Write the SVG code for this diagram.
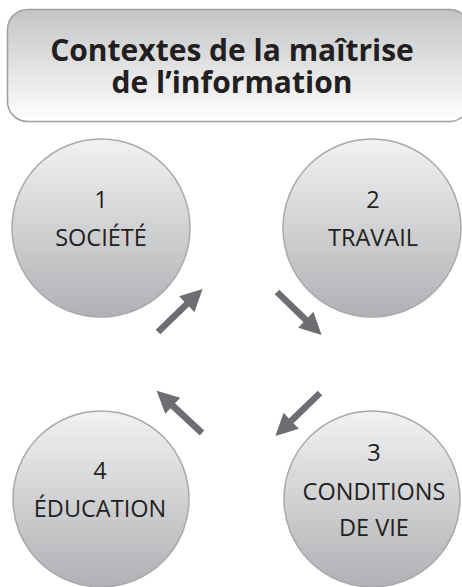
<svg xmlns="http://www.w3.org/2000/svg" xmlns:xlink="http://www.w3.org/1999/xlink" width="462" height="587" viewBox="0 0 462 587">
<style>
.title{font-family:"Open Sans","Liberation Sans",sans-serif;font-weight:bold;font-size:30px;fill:#231f20;text-anchor:middle}
.lbl{font-family:"Open Sans","Liberation Sans",sans-serif;font-size:23.5px;fill:#231f20;text-anchor:middle}
.node{fill:url(#gc);stroke:#a7a9ac;stroke-width:1.5}
.arr{fill:#6d6e71}
</style>
<defs>
<linearGradient id="gt" x1="0" y1="0" x2="0" y2="1">
<stop offset="0" stop-color="#c3c4c6"/>
<stop offset="1" stop-color="#ffffff"/>
</linearGradient>
<linearGradient id="gc" x1="0" y1="0" x2="0" y2="1">
<stop offset="0" stop-color="#f2f2f3"/>
<stop offset="1" stop-color="#b0b1b4"/>
</linearGradient>
<polygon id="arrow" points="0,-3.3 40,-3.3 40,-11 62,0 40,11 40,3.3 0,3.3"/>
</defs>
<rect width="462" height="587" fill="#ffffff"/>
<g id="title">
<rect x="7.5" y="9.5" width="462" height="112" rx="20" fill="url(#gt)" stroke="#9d9fa2" stroke-width="1.5"/>
<text class="title"><tspan x="232" y="61">Contextes de la maîtrise</tspan><tspan x="232" y="93">de l’information</tspan></text>
</g>
<g id="node1">
<circle class="node" cx="101" cy="228" r="89"/>
<text class="lbl" x="101" y="208">1</text>
<text class="lbl" x="101" y="246">SOCIÉTÉ</text>
</g>
<g id="node2">
<circle class="node" cx="372" cy="228" r="89"/>
<text class="lbl" x="373" y="208">2</text>
<text class="lbl" x="373" y="246">TRAVAIL</text>
</g>
<g id="node3">
<circle class="node" cx="372" cy="499" r="88"/>
<text class="lbl" x="374" y="461">3</text>
<text class="lbl" x="374" y="500">CONDITIONS</text>
<text class="lbl" x="374" y="536">DE VIE</text>
</g>
<g id="node4">
<circle class="node" cx="101" cy="499" r="88"/>
<text class="lbl" x="100" y="479">4</text>
<text class="lbl" x="100" y="517">ÉDUCATION</text>
</g>
<g id="connectors" class="arr">
<use xlink:href="#arrow" transform="translate(158,332) rotate(-44)"/>
<use xlink:href="#arrow" transform="translate(277,292) rotate(44)"/>
<use xlink:href="#arrow" transform="translate(320,393) rotate(136)"/>
<use xlink:href="#arrow" transform="translate(202,433) rotate(-137)"/>
</g>
</svg>
